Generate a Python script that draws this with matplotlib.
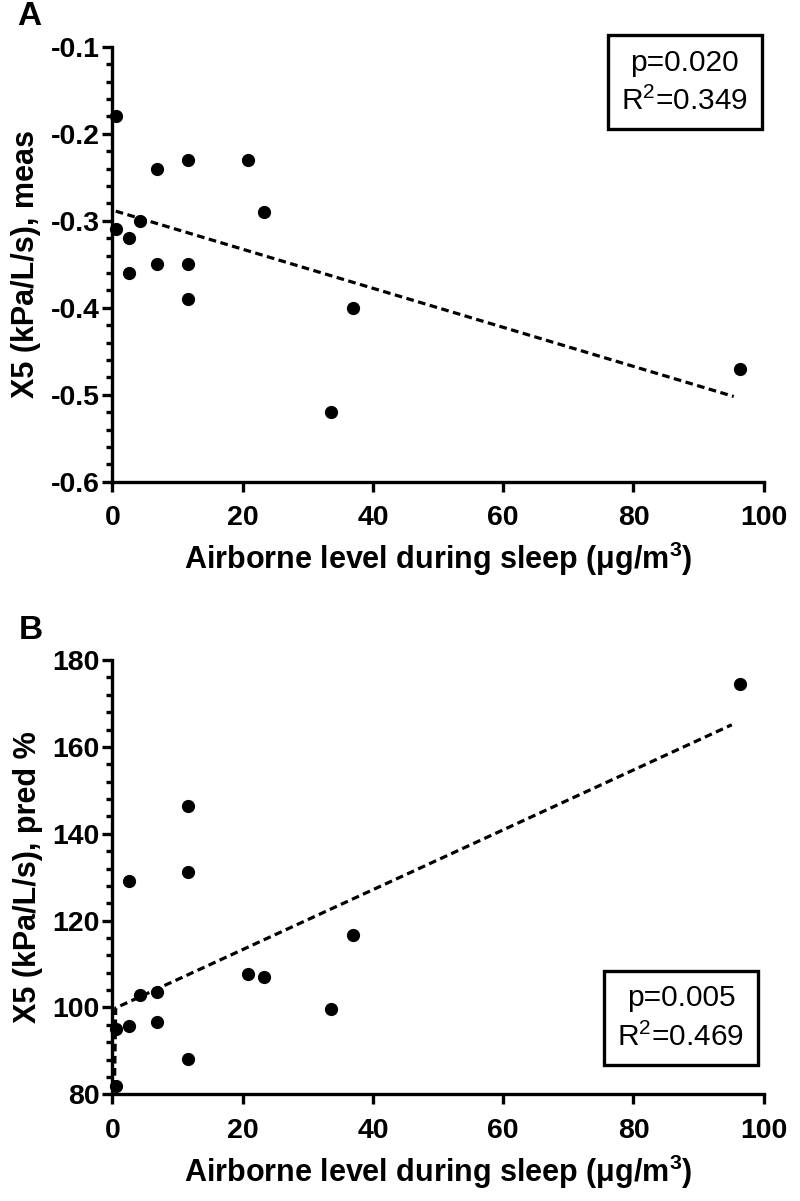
import matplotlib
matplotlib.use("Agg")
import matplotlib.pyplot as plt
from matplotlib.ticker import MultipleLocator

plt.rcParams['font.family'] = ['Liberation Sans', 'DejaVu Sans']
plt.rcParams['mathtext.fontset'] = 'custom'
plt.rcParams['mathtext.rm'] = 'Liberation Sans'
plt.rcParams['mathtext.bf'] = 'Liberation Sans:bold'
plt.rcParams['mathtext.default'] = 'rm'

# airborne level during sleep (ug/m3), same subjects in both panels
level = [0.6, 0.6, 2.6, 2.6, 4.2, 6.9, 6.9, 11.6, 11.6, 11.6, 20.8, 23.2, 33.5, 36.9, 96.3]
# panel A: X5 measured (kPa/L/s)
x5_meas = [-0.18, -0.31, -0.32, -0.36, -0.30, -0.24, -0.35, -0.23, -0.35, -0.39, -0.23, -0.29, -0.52, -0.40, -0.47]
# panel B: X5 % predicted
x5_pred = [95.0, 81.9, 129.2, 95.7, 102.9, 103.6, 96.6, 146.5, 131.1, 88.1, 107.6, 107.1, 99.6, 116.8, 174.4]

# regression lines as drawn
fit_a_x = [0.5, 95.4]
fit_a_y = [-0.289, -0.502]
fit_b_x = [0.3, 0.5, 95.1]
fit_b_y = [81.5, 99.9, 165.1]

stats_a = "p=0.020\nR$^2$=0.349"
stats_b = "p=0.005\nR$^2$=0.469"

xlabel = "Airborne level during sleep (μg/m$^{\\mathbf{3}}$)"

fig = plt.figure(figsize=(8, 12.01), dpi=100)
axA = fig.add_axes([0.1406, 0.5989, 0.814, 0.3622])
axB = fig.add_axes([0.1406, 0.0888, 0.814, 0.3616])


def style(ax, ylim, major, minor, ylab):
    ax.set_xlim(0, 100)
    ax.set_ylim(*ylim)
    ax.xaxis.set_major_locator(MultipleLocator(20))
    ax.yaxis.set_major_locator(MultipleLocator(major))
    ax.yaxis.set_minor_locator(MultipleLocator(minor))
    for s in ['top', 'right']:
        ax.spines[s].set_visible(False)
    for s in ['left', 'bottom']:
        ax.spines[s].set_linewidth(2.4)
    ax.tick_params(axis='both', which='major', direction='out', length=7, width=2.4,
                   labelsize=20.5)
    ax.tick_params(axis='x', pad=10)
    ax.tick_params(axis='y', pad=2)
    ax.tick_params(axis='y', which='minor', direction='out', length=4, width=2.4)
    for lab in ax.get_xticklabels() + ax.get_yticklabels():
        lab.set_fontweight('bold')
    ax.set_xlabel(xlabel, fontsize=22, fontweight='bold', labelpad=6)
    ax.set_ylabel(ylab, fontsize=22, fontweight='bold', labelpad=7)


style(axA, (-0.6, -0.1), 0.1, 0.02, "X5 (kPa/L/s), meas")
axA.yaxis.set_major_formatter(plt.FuncFormatter(lambda v, p: "%.1f" % v))
style(axB, (80, 180), 20, 4, "X5 (kPa/L/s), pred %")

axA.plot(level, x5_meas, 'o', color='black', ms=8.5, clip_on=False, zorder=5)
axA.plot(fit_a_x, fit_a_y, color='black', lw=2.3, dashes=(2.4, 1.4), zorder=4)
axB.plot(level, x5_pred, 'o', color='black', ms=8.5, clip_on=False, zorder=5)
axB.plot(fit_b_x, fit_b_y, color='black', lw=2.3, dashes=(2.4, 1.4), zorder=4, clip_on=False)

box = dict(boxstyle='square,pad=0.44', facecolor='white', edgecolor='black', linewidth=2.4)
axA.text(0.879, 0.918, stats_a, transform=axA.transAxes, ha='center', va='center',
         fontsize=21.5, linespacing=1.45, bbox=box)
axB.text(0.873, 0.176, stats_b, transform=axB.transAxes, ha='center', va='center',
         fontsize=21.5, linespacing=1.45, bbox=box)

fig.text(0.036, 0.986, "A", fontsize=24, fontweight='bold', ha='center', va='center')
fig.text(0.039, 0.475, "B", fontsize=24, fontweight='bold', ha='center', va='center')

fig.savefig("out.png", dpi=100)
